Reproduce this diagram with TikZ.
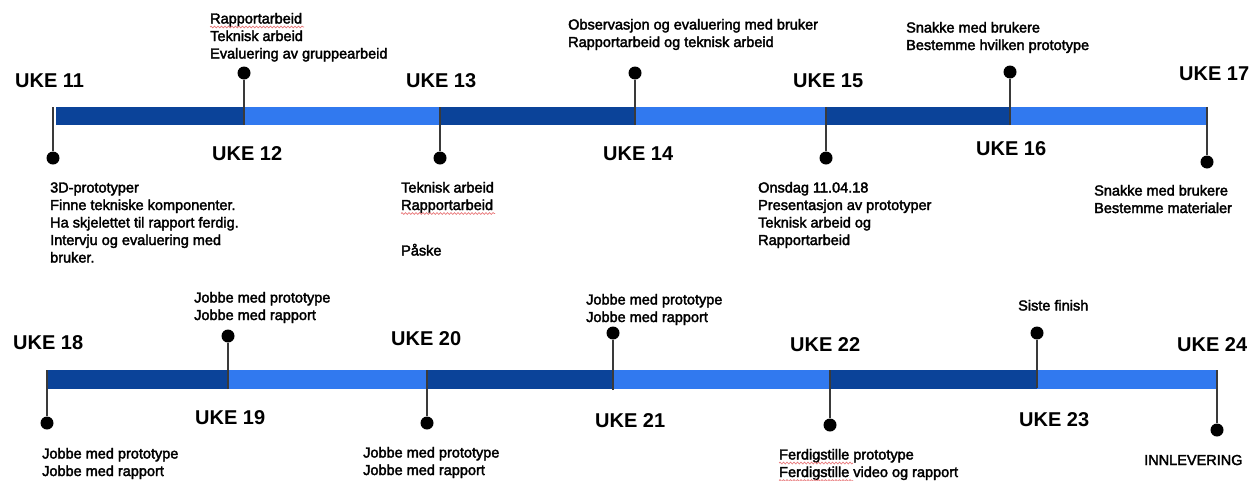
\documentclass[tikz,border=0pt]{standalone}
\usepackage{fontspec}
\setmainfont{Liberation Sans}
\newfontfamily\medfont{Liberation Sans}[FakeBold=2.4]
\usetikzlibrary{decorations.pathmorphing}
\definecolor{darkbar}{HTML}{0B4399}
\definecolor{lightbar}{HTML}{3179EF}
\definecolor{tickgray}{HTML}{3A3A3A}
\definecolor{spell}{HTML}{E8787A}
\newcommand{\notelines}[1]{\begin{tabular}[t]{@{}l@{}}#1\end{tabular}}
\tikzset{
  uke/.style={anchor=base west, inner sep=0pt, font=\fontsize{20}{24}\selectfont\bfseries},
  note/.style={anchor=base west, inner sep=0pt, font=\medfont\fontsize{14.5}{17.5}\selectfont},
  dot/.style={circle, fill=black, inner sep=0pt, minimum size=13pt},
  tick/.style={draw=tickgray, line width=1.6pt},
  darkseg/.style={fill=darkbar},
  lightseg/.style={fill=lightbar},
  squiggle/.style={draw=spell, line width=0.7pt, decorate, decoration={snake, segment length=3.5pt, amplitude=0.9pt}}
}
\begin{document}
\begin{tikzpicture}[x=1pt,y=-1pt]
\useasboundingbox (0,0) rectangle (1260,480);
% ---------- top bar ----------
\fill[darkseg]  (56,107)  rectangle (244,125);
\fill[lightseg] (244,107) rectangle (440,125);
\fill[darkseg]  (440,107) rectangle (635,125);
\fill[lightseg] (635,107) rectangle (826,125);
\fill[darkseg]  (826,107) rectangle (1010,125);
\fill[lightseg] (1010,107) rectangle (1207,125);
% ---------- bottom bar ----------
\fill[darkseg]  (48,370)  rectangle (228,389);
\fill[lightseg] (228,370) rectangle (427,389);
\fill[darkseg]  (427,370) rectangle (613,389);
\fill[lightseg] (613,370) rectangle (830,389);
\fill[darkseg]  (830,370) rectangle (1037,389);
\fill[lightseg] (1037,370) rectangle (1217,389);
% ---------- tick coordinates ----------
\coordinate (t11) at (53,107);
\coordinate (t12) at (244,125);
\coordinate (t13) at (440,107);
\coordinate (t14) at (635,125);
\coordinate (t15) at (826,107);
\coordinate (t16) at (1010,125);
\coordinate (t17) at (1207,107);
\coordinate (t18) at (47,370);
\coordinate (t19) at (228,389);
\coordinate (t20) at (427,370);
\coordinate (t21) at (613,390);
\coordinate (t22) at (830,370);
\coordinate (t23) at (1037,388);
\coordinate (t24) at (1217,370);
% ---------- dots ----------
\node[dot] (d11) at (53,158) {};
\node[dot] (d12) at (244,73) {};
\node[dot] (d13) at (440,158) {};
\node[dot] (d14) at (635,73) {};
\node[dot] (d15) at (826,158) {};
\node[dot] (d16) at (1010,72) {};
\node[dot] (d17) at (1207,162) {};
\node[dot] (d18) at (47,423) {};
\node[dot] (d19) at (228,336) {};
\node[dot] (d20) at (427,423) {};
\node[dot] (d21) at (613,333) {};
\node[dot] (d22) at (830,425) {};
\node[dot] (d23) at (1037,333) {};
\node[dot] (d24) at (1217,430) {};
% ---------- connectors ----------
\foreach \k in {11,...,24} { \draw[tick] (t\k) -- (d\k); }
% ---------- week labels ----------
\node[uke] (u11) at (15,87)   {UKE 11};
\node[uke] (u12) at (212,160) {UKE 12};
\node[uke] (u13) at (406,87)  {UKE 13};
\node[uke] (u14) at (603,160) {UKE 14};
\node[uke] (u15) at (793,87)  {UKE 15};
\node[uke] (u16) at (976,155) {UKE 16};
\node[uke] (u17) at (1179,80) {UKE 17};
\node[uke] (u18) at (13,349)  {UKE 18};
\node[uke] (u19) at (195,424) {UKE 19};
\node[uke] (u20) at (391,345) {UKE 20};
\node[uke] (u21) at (595,427) {UKE 21};
\node[uke] (u22) at (790,351) {UKE 22};
\node[uke] (u23) at (1019,426) {UKE 23};
\node[uke] (u24) at (1177,351) {UKE 24};
% ---------- notes ----------
\node[note] (n12) at (210,23.5) {\notelines{Rapportarbeid\\Teknisk arbeid\\Evaluering av gruppearbeid}};
\node[note] (n11) at (50,192.5) {\notelines{3D-prototyper\\Finne tekniske komponenter.\\Ha skjelettet til rapport ferdig.\\Intervju og evaluering med\\bruker.}};
\node[note] (n13) at (401,192.5) {\notelines{Teknisk arbeid\\Rapportarbeid}};
\node[note] (n13b) at (401,255.5) {P\r{a}ske};
\node[note] (n14) at (568,29.5) {\notelines{Observasjon og evaluering med bruker\\Rapportarbeid og teknisk arbeid}};
\node[note] (n15) at (758,192.5) {\notelines{Onsdag 11.04.18\\Presentasjon av prototyper\\Teknisk arbeid og\\Rapportarbeid}};
\node[note] (n16) at (906,32.5) {\notelines{Snakke med brukere\\Bestemme hvilken prototype}};
\node[note] (n17) at (1094,195.5) {\notelines{Snakke med brukere\\Bestemme materialer}};
\node[note] (n19) at (194,302.5) {\notelines{Jobbe med prototype\\Jobbe med rapport}};
\node[note] (n18) at (42,458.5) {\notelines{Jobbe med prototype\\Jobbe med rapport}};
\node[note] (n20) at (363,457.5) {\notelines{Jobbe med prototype\\Jobbe med rapport}};
\node[note] (n21) at (586,304.5) {\notelines{Jobbe med prototype\\Jobbe med rapport}};
\node[note] (n22) at (779,459.5) {\notelines{Ferdigstille prototype\\Ferdigstille video og rapport}};
\node[note] (n23) at (1018,310.5) {Siste finish};
\node[note] (n24) at (1144,465) {INNLEVERING};
% ---------- spell-check squiggles ----------
\draw[squiggle] (210,27) -- (304,27);
\draw[squiggle] (401,213.5) -- (495,213.5);
\draw[squiggle] (779,463) -- (853,463);
\draw[squiggle] (779,480.5) -- (853,480.5);
\end{tikzpicture}
\end{document}
